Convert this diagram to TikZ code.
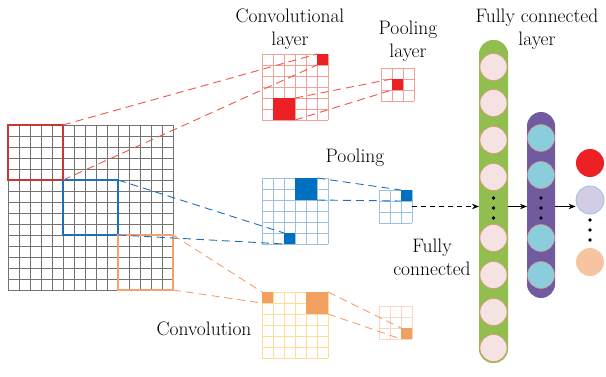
\documentclass[tikz,border=0pt]{standalone}
\definecolor{boxred}{RGB}{200,55,50}
\definecolor{cellred}{RGB}{237,32,36}
\definecolor{gridred}{RGB}{245,160,150}
\definecolor{dashred}{RGB}{240,85,75}
\definecolor{boxblue}{RGB}{30,110,190}
\definecolor{cellblue}{RGB}{0,112,192}
\definecolor{gridblue}{RGB}{155,192,228}
\definecolor{boxorange}{RGB}{245,160,110}
\definecolor{cellorange}{RGB}{242,160,95}
\definecolor{gridyellow}{RGB}{252,222,150}
\definecolor{gridpeach}{RGB}{250,215,195}
\definecolor{fcgreen}{RGB}{146,190,80}
\definecolor{fcpurple}{RGB}{112,90,160}
\definecolor{neuronpink}{RGB}{245,226,226}
\definecolor{neuronedge}{RGB}{230,140,120}
\definecolor{neuroncyan}{RGB}{138,206,222}
\definecolor{outlavender}{RGB}{210,205,228}
\definecolor{outpeach}{RGB}{246,196,160}
\usepackage{tikz}
\usetikzlibrary{arrows.meta,positioning,calc}

% one square grid of n x n cells, 11pt each
\newcommand{\fmgrid}[4]{%
  \fill[white] (#1,#2) rectangle ++(#3*11,#3*11);
  \foreach \k in {0,...,#3}{
    \draw[#4] (#1+\k*11,#2) -- ++(0,#3*11);
    \draw[#4] (#1,#2+\k*11) -- ++(#3*11,0);
  }}

\begin{document}
\begin{tikzpicture}[x=1pt,y=-1pt,
    lbl/.style={font=\fontsize{19.5}{23}\selectfont,align=center,inner sep=0pt},
    fbox/.style={draw,line width=1.5pt,minimum size=55pt,inner sep=0pt,outer sep=0pt},
    cell/.style={minimum size=11pt,inner sep=0pt,outer sep=0pt},
    block/.style={minimum size=22pt,inner sep=0pt,outer sep=0pt},
    link/.style={dash pattern=on 8pt off 5pt,line width=0.9pt},
    capsule/.style={rounded corners=14pt,inner sep=0pt,outer sep=0pt},
    neuron/.style={circle,minimum size=27pt,inner sep=0pt,draw=neuronedge,line width=0.5pt},
    outn/.style={circle,minimum size=28pt,inner sep=0pt},
    flow/.style={-{Stealth[length=7pt,width=5.5pt]},line width=0.9pt}]
\useasboundingbox (0,0) rectangle (606,377);

% Input feature map
\fmgrid{8}{125}{15}{black!55,line width=0.8pt}
\node[fbox,draw=boxred] (redbox) at (35.5,152.5) {};
\node[fbox,draw=boxblue] (bluebox) at (90.5,207.5) {};
\node[fbox,draw=boxorange] (orangebox) at (145.5,262.5) {};

% Convolution outputs
\fmgrid{262}{54}{6}{gridred,line width=0.7pt}
\fmgrid{262}{178}{6}{gridblue,line width=0.7pt}
\fmgrid{262}{292}{6}{gridyellow,line width=0.7pt}

% Pooling outputs
\fmgrid{381}{68}{3}{gridred,line width=0.7pt}
\fmgrid{379}{190}{3}{gridblue,line width=0.7pt}
\fmgrid{379}{306}{3}{gridpeach,line width=0.7pt}
\node[minimum size=33pt,inner sep=0pt,outer sep=0pt] (bluepoolgrid) at (395.5,206.5) {};

% Selected cells
\node[cell,fill=cellred] (redcell) at (322.5,59.5) {};
\node[block,fill=cellred] (redblock) at (284,109) {};
\node[cell,fill=cellred] (redpool) at (397.5,84.5) {};
\node[cell,fill=cellblue] (bluecell) at (289.5,238.5) {};
\node[block,fill=cellblue] (blueblock) at (306,189) {};
\node[cell,fill=cellblue] (bluepool) at (406.5,195.5) {};
\node[cell,fill=cellorange] (orangecell) at (267.5,297.5) {};
\node[block,fill=cellorange] (orangeblock) at (317,303) {};
\node[cell,fill=cellorange] (orangepool) at (406.5,333.5) {};

% Dashed links
\draw[link,dashred] (redbox.north east) -- (redcell.north west);
\draw[link,dashred] (redbox.south east) -- (redcell.south west);
\draw[link,dashred] (redblock.north east) -- (redpool.north west);
\draw[link,dashred] (redblock.south east) -- (redpool.south west);
\draw[link,boxblue] (bluebox.north east) -- (bluecell.north west);
\draw[link,boxblue] (bluebox.south east) -- (bluecell.south west);
\draw[link,boxblue] (blueblock.north east) -- (bluepool.north west);
\draw[link,boxblue] (blueblock.south east) -- (bluepool.south west);
\draw[link,boxorange] (orangebox.north east) -- (orangecell.north west);
\draw[link,boxorange] (orangebox.south east) -- (orangecell.south west);
\draw[link,boxorange] (orangeblock.north east) -- (orangepool.north west);
\draw[link,boxorange] (orangeblock.south east) -- (orangepool.south west);

% Fully connected layers
\node[capsule,fill=fcgreen,minimum width=29pt,minimum height=323pt] (fc1) at (493.5,201.5) {};
\node[capsule,fill=fcpurple,minimum width=28pt,minimum height=186pt] (fc2) at (541,205) {};
\foreach \y [count=\i] in {67,103,140,177,238,275,312,348}
  \node[neuron,fill=neuronpink] (g\i) at (493.5,\y) {};
\foreach \y [count=\i] in {138,175,238,275}
  \node[neuron,fill=neuroncyan] (p\i) at (541,\y) {};
\foreach \y in {198,208,218}{
  \fill (493.5,\y) circle (1.8pt);
  \fill (541,\y) circle (1.8pt);
}

% Output
\node[outn,fill=cellred] (out1) at (590,163) {};
\node[outn,fill=outlavender,draw=gridblue,line width=0.8pt] (out2) at (590,200) {};
\node[outn,fill=outpeach] (out3) at (590,262) {};
\foreach \y in {220,230,240}
  \fill (590,\y) circle (1.8pt);

% Arrows
\draw[flow,dash pattern=on 5pt off 4pt] (bluepoolgrid.east) -- (bluepoolgrid.east -| fc1.west);
\draw[flow] (bluepoolgrid.east -| fc1.east) -- (bluepoolgrid.east -| fc2.west);
\draw[flow] (bluepoolgrid.east -| fc2.east) -- (bluepoolgrid.east -| out2.west);

% Labels
\node[lbl] (convlbl) at (290,29) {Convolutional\\layer};
\node[lbl] (poollbl) at (408,41) {Pooling\\layer};
\node[lbl] (poolinglbl) at (355,158) {Pooling};
\node[lbl] (fullylbl) at (432,257) {Fully\\connected};
\node[lbl] (convolbl) at (204,329) {Convolution};
\node[lbl] (fclbl) at (537,29) {Fully connected\\layer};
\end{tikzpicture}
\end{document}
